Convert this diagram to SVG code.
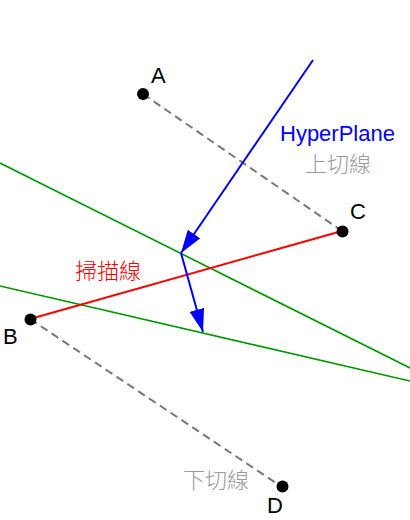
<svg xmlns="http://www.w3.org/2000/svg" width="410" height="520" viewBox="0 0 410 520">
<style>
.dot{fill:#000}
.lbl{font-family:"Liberation Sans",Arial,sans-serif;font-size:22px;fill:#000}
.cjk{font-family:"Noto Sans CJK TC","Noto Sans CJK SC",sans-serif;font-size:22px;font-weight:300}
.dash{stroke:#777;stroke-width:2;stroke-dasharray:8,5;fill:none}
.green{stroke:#009900;stroke-width:1.6;fill:none}
.red{stroke:#ff0000;stroke-width:2;fill:none}
.blue{stroke:#0000ff;stroke-width:2;fill:none}
</style>
<defs>
<marker id="arr" viewBox="0 0 23 15" refX="23" refY="7.5" markerWidth="23" markerHeight="15" markerUnits="userSpaceOnUse" orient="auto">
<path d="M0,0 L23,7.5 L0,15 z" fill="#0000ff"/>
</marker>
</defs>
<rect width="410" height="520" fill="#fff"/>
<g id="connectors">
<line class="green" x1="0" y1="163" x2="410" y2="368"/>
<line class="green" x1="0" y1="286" x2="410" y2="381"/>
<line class="dash" x1="143" y1="94" x2="342" y2="231"/>
<line class="dash" x1="30" y1="319" x2="282" y2="487"/>
<line class="red" x1="30" y1="319" x2="342" y2="231"/>
<line class="blue" x1="313" y1="60" x2="181" y2="253" marker-end="url(#arr)"/>
<line class="blue" x1="181" y1="253" x2="203" y2="332" marker-end="url(#arr)"/>
<text class="lbl" x="280" y="141" style="fill:#0000ff">HyperPlane</text>
<text class="cjk" x="305" y="172" fill="#999">上切線</text>
<text class="cjk" x="75" y="279" fill="#ff0000">掃描線</text>
<text class="cjk" x="183" y="488" fill="#999">下切線</text>
</g>
<g id="A"><circle class="dot" cx="143" cy="94" r="6"/><text class="lbl" x="151" y="83">A</text></g>
<g id="B"><circle class="dot" cx="30.5" cy="319.5" r="6"/><text class="lbl" x="3" y="344">B</text></g>
<g id="C"><circle class="dot" cx="342.5" cy="231.5" r="6"/><text class="lbl" x="350" y="219">C</text></g>
<g id="D"><circle class="dot" cx="282.5" cy="486.5" r="6"/><text class="lbl" x="267" y="513">D</text></g>
</svg>
